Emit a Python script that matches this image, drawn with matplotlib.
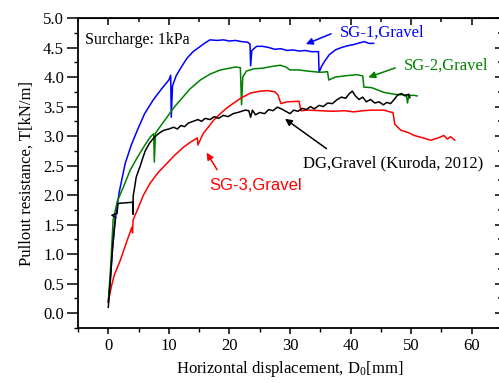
import matplotlib
matplotlib.use('Agg')
import matplotlib.pyplot as plt
from matplotlib.ticker import MultipleLocator, FormatStrFormatter

# --- data ---
sg1_x = [0, 0.33, 0.7, 1.16, 1.8, 2.8, 3.8, 4.8, 6.0, 7.4, 8.8, 10.0, 10.3, 10.4, 10.6, 11.2, 12.0, 13.0,
         14.0, 15.2, 16.0, 16.8, 18.0, 19.0, 20.0, 21.0, 22.0, 23.0, 23.4, 23.5, 23.7, 24.5, 25.5, 26.5,
         27.5, 28.5, 29.5, 30.5, 31.5, 32.5, 33.5, 34.7, 34.8, 35.2, 35.8, 36.5, 37.5, 38.5, 39.5, 40.5,
         41.5, 42.3, 43.0, 43.8]
sg1_y = [0.19, 0.56, 1.1, 1.58, 2.05, 2.54, 2.85, 3.1, 3.38, 3.61, 3.80, 3.95, 4.03, 3.32, 3.85, 4.02, 4.16, 4.32,
         4.43, 4.52, 4.58, 4.63, 4.62, 4.63, 4.61, 4.62, 4.60, 4.59, 4.56, 4.19, 4.45, 4.52, 4.52, 4.50,
         4.47, 4.48, 4.45, 4.46, 4.44, 4.45, 4.43, 4.43, 4.08, 4.18, 4.28, 4.38, 4.46, 4.50, 4.53, 4.55,
         4.58, 4.60, 4.57, 4.57]

sg2_x = [0, 0.4, 0.8, 1.5, 2.5, 3.6, 4.8, 6.0, 6.9, 7.5, 7.6, 7.8, 8.7, 9.7, 10.8, 11.9, 13.5, 15.2, 16.8,
         18.5, 20.0, 21.0, 21.8, 22.0, 22.2, 22.8, 24.0, 25.5, 27.0, 28.4, 29.3, 30.0, 31.5, 33.0, 35.0,
         36.2, 36.4, 37.5, 39.0, 41.0, 42.0, 42.2, 43.5, 44.5, 45.5, 46.6, 47.8, 49.2, 49.4, 49.6, 50.5, 51.0]
sg2_y = [0.19, 0.8, 1.58, 1.9, 2.14, 2.42, 2.64, 2.84, 2.98, 3.04, 2.56, 3.05, 3.18, 3.32, 3.48, 3.61, 3.80, 3.95, 4.05,
         4.12, 4.15, 4.17, 4.16, 3.53, 4.00, 4.10, 4.14, 4.15, 4.18, 4.20, 4.17, 4.12, 4.12, 4.10, 4.08,
         4.09, 3.95, 4.00, 4.02, 4.04, 4.02, 3.83, 3.82, 3.78, 3.74, 3.72, 3.70, 3.70, 3.56, 3.69, 3.69, 3.68]

sg3_x = [0, 0.5, 1.0, 2.0, 3.0, 3.9, 4.0, 4.1, 4.8, 5.8, 6.9, 8.2, 9.7, 11.0, 12.4, 13.6, 14.7, 14.8, 15.7,
         16.5, 17.4, 18.5, 19.5, 20.7, 22.0, 23.5, 25.0, 26.3, 27.5, 28.0, 28.5, 29.5, 31.5, 31.8, 33.0,
         35.0, 37.0, 39.0, 40.5, 42.0, 43.5, 45.5, 46.5, 47.0, 47.3, 48.3, 49.5, 50.5, 52.0, 53.2, 54.5,
         55.4, 56.0, 56.5, 57.2]
sg3_y = [0.19, 0.45, 0.65, 0.9, 1.2, 1.46, 1.36, 1.58, 1.75, 2.0, 2.2, 2.38, 2.54, 2.68, 2.81, 2.9, 2.97, 2.85, 3.05,
         3.15, 3.27, 3.38, 3.47, 3.56, 3.65, 3.73, 3.76, 3.77, 3.75, 3.70, 3.55, 3.58, 3.59, 3.43, 3.44,
         3.43, 3.42, 3.43, 3.41, 3.43, 3.44, 3.44, 3.41, 3.40, 3.20, 3.10, 3.06, 3.01, 2.97, 2.93, 2.97,
         3.01, 2.95, 2.99, 2.93]

dg_x = [0, 0.3, 0.7, 1.0, 1.2, 0.6, 1.45, 1.6, 4.1, 4.1, 4.1, 4.3, 4.6, 5.0, 5.3, 5.6, 6.1, 6.8, 7.6, 8.4,
        9.2, 10.0, 10.8, 11.4, 12.0, 12.6, 13.2, 14.0, 14.8, 15.4, 16.0, 16.8, 17.5, 18.2, 19.0, 19.8,
        20.6, 21.4, 22.0, 22.6, 23.2, 23.5, 23.8, 24.3, 25.0, 25.8, 26.5, 27.2, 27.9, 28.6, 29.3, 30.0,
        30.6, 31.3, 32.0, 32.7, 33.4, 34.0, 34.8, 35.5, 36.2, 37.0, 37.8, 38.5, 39.2, 39.8, 40.3, 40.8,
        41.4, 42.0, 42.6, 43.3, 44.0, 44.7, 45.4, 46.0, 46.6, 47.2, 47.8, 48.4, 49.0, 49.6, 49.8]
dg_y = [0.10, 0.5, 1.1, 1.45, 1.62, 1.66, 1.69, 1.86, 1.88, 1.68, 1.98, 2.1, 2.3, 2.42, 2.5, 2.6, 2.75, 2.88, 2.98, 3.05,
        3.1, 3.12, 3.15, 3.12, 3.18, 3.16, 3.22, 3.25, 3.28, 3.25, 3.3, 3.28, 3.33, 3.3, 3.35, 3.33,
        3.38, 3.40, 3.42, 3.44, 3.43, 3.32, 3.44, 3.36, 3.40, 3.38, 3.45, 3.43, 3.49, 3.46, 3.42, 3.38,
        3.44, 3.42, 3.47, 3.45, 3.50, 3.46, 3.52, 3.50, 3.56, 3.55, 3.62, 3.66, 3.64, 3.72, 3.76, 3.68,
        3.62, 3.66, 3.58, 3.62, 3.56, 3.58, 3.53, 3.57, 3.55, 3.62, 3.70, 3.72, 3.68, 3.71, 3.65]

plt.rcParams['font.family'] = 'Liberation Serif'
plt.rcParams['mathtext.fontset'] = 'custom'
plt.rcParams['mathtext.rm'] = 'Liberation Serif'
plt.rcParams['mathtext.it'] = 'Liberation Serif:italic'

fig = plt.figure(figsize=(4.99, 3.83), dpi=100)
ax = fig.add_axes([78 / 499, 55 / 383, 424 / 499, 310 / 383])

lw = 1.1
ax.plot(sg1_x, sg1_y, color='blue', lw=lw)
ax.plot(sg2_x, sg2_y, color='green', lw=lw)
ax.plot(sg3_x, sg3_y, color='red', lw=lw)
ax.plot(dg_x, dg_y, color='black', lw=lw)

ax.set_xlim(-5, 65)
ax.set_ylim(-0.25, 5.0)
ax.set_xticks([0, 10, 20, 30, 40, 50, 60])
ax.xaxis.set_minor_locator(MultipleLocator(5))
ax.yaxis.set_major_locator(MultipleLocator(0.5))
ax.yaxis.set_minor_locator(MultipleLocator(0.25))
ax.yaxis.set_major_formatter(FormatStrFormatter('%.1f'))
ax.tick_params(axis='y', which='major', direction='out', length=8, width=1.1, labelsize=12, pad=2)
ax.tick_params(axis='y', which='minor', direction='out', length=3, width=1.0)
ax.tick_params(axis='x', which='major', direction='out', length=4, width=1.1, labelsize=12, pad=3)
ax.tick_params(axis='x', which='minor', direction='out', length=3, width=1.0)
for s in ax.spines.values():
    s.set_linewidth(1.3)

top = ax.secondary_xaxis('top')
top.set_xticks([0, 10, 20, 30, 40, 50, 60])
top.xaxis.set_minor_locator(MultipleLocator(5))
top.tick_params(which='both', direction='in', labeltop=False, width=1.1)
top.tick_params(which='major', length=5)
top.tick_params(which='minor', length=3)
right = ax.secondary_yaxis('right')
right.yaxis.set_major_locator(MultipleLocator(0.5))
right.yaxis.set_minor_locator(MultipleLocator(0.25))
right.tick_params(which='both', direction='in', labelright=False, width=1.1)
right.tick_params(which='major', length=5)
right.tick_params(which='minor', length=3)

ax.set_xlabel('Horizontal displacement, D$_0$[mm]', fontsize=12, labelpad=4)
ax.set_ylabel('Pullout resistance, T[kN/m]', fontsize=12, labelpad=6)

ax.text(-3.8, 4.63, 'Surcharge: 1kPa', fontsize=11.5, va='center')

arrow = dict(arrowstyle='-|>', lw=1.1, mutation_scale=10)
ax.annotate('', xy=(32.2, 4.54), xytext=(37.2, 4.75), arrowprops=dict(arrow, color='blue'))
ax.text(38.3, 4.76, 'SG-1,Gravel', color='blue', fontsize=12, va='center')
ax.annotate('', xy=(42.5, 3.98), xytext=(47.8, 4.17), arrowprops=dict(arrow, color='green'))
ax.text(48.8, 4.19, 'SG-2,Gravel', color='green', fontsize=12, va='center')
ax.annotate('', xy=(28.8, 3.32), xytext=(36.4, 2.76), arrowprops=dict(arrow, color='black'))
ax.text(32.1, 2.54, 'DG,Gravel (Kuroda, 2012)', color='black', fontsize=12, va='center')
ax.annotate('', xy=(16.0, 2.76), xytext=(18.2, 2.39), arrowprops=dict(arrow, color='red'))
ax.text(16.7, 2.17, 'SG-3,Gravel', color='red', fontsize=12, va='center', family='Liberation Sans')

fig.savefig('out.png', dpi=100)
